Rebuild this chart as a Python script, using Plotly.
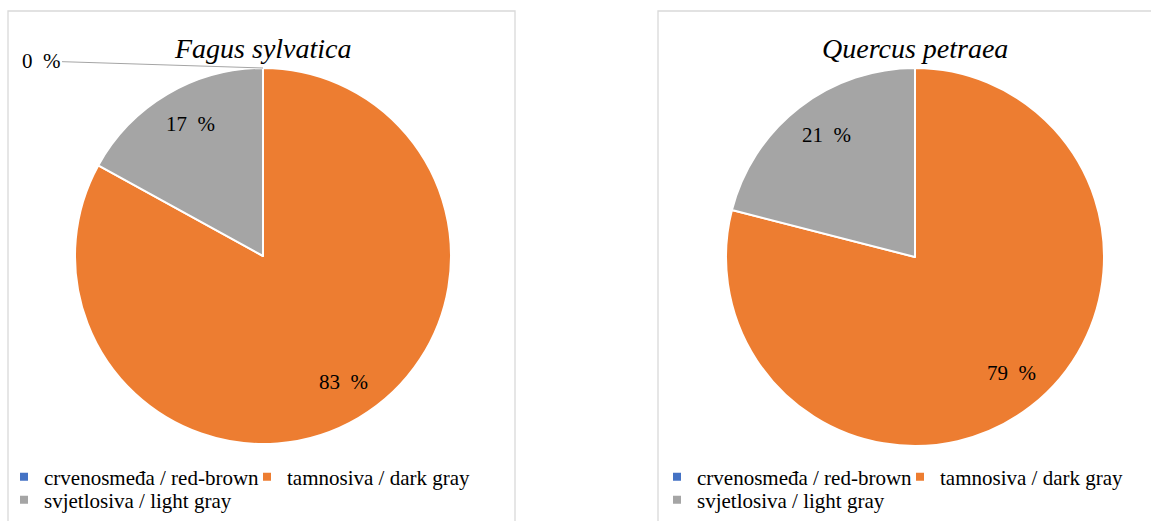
import math
import plotly.graph_objects as go

W, H = 1151, 521

# ---- data ----
categories = ["crvenosmeđa / red-brown", "tamnosiva / dark gray", "svjetlosiva / light gray"]
fagus_values = [0, 83, 17]
quercus_values = [None, 79, 21]
titles = ["Fagus sylvatica", "Quercus petraea"]
colors = ["#4472C4", "#ED7D31", "#A5A5A5"]

SERIF = "Liberation Serif"

# ---- layout geometry (pixels) ----
panels = [
    dict(cx=263, cy=256, r=188, values=fagus_values, title=titles[0],
         box=(8, 515), leg_x=4, legs=("legend", "legend2")),
    dict(cx=915, cy=257, r=189, values=quercus_values, title=titles[1],
         box=(658, 1160), leg_x=657, legs=("legend3", "legend4")),
]
LABEL_RADIUS = 0.8


def px_x(x):
    return x / W


def px_y(y):
    return 1 - y / H


fig = go.Figure()
annotations = []
shapes = []
legend_layout = {}

for p in panels:
    cx, cy, r = p["cx"], p["cy"], p["r"]
    vals = p["values"]
    fig.add_trace(go.Pie(
        labels=categories,
        values=vals,
        sort=False,
        direction="clockwise",
        rotation=0,
        marker=dict(colors=colors, line=dict(color="white", width=2)),
        textinfo="none",
        showlegend=False,
        hoverinfo="label+percent",
        domain=dict(x=[px_x(cx - r), px_x(cx + r)], y=[px_y(cy + r), px_y(cy - r)]),
    ))

    # data labels at slice mid-angles (clockwise from 12 o'clock)
    total = sum(v for v in vals if v is not None)
    cum = 0.0
    for v in vals:
        if v is None:
            continue
        label = "%d\u00a0\u00a0%%" % round(100 * v / total)
        if v == 0:
            # zero slice: outside label with leader line to the slice start
            ang = 2 * math.pi * cum / total
            annotations.append(dict(
                x=px_x(cx + r * math.sin(ang)), y=px_y(cy - r * math.cos(ang)),
                xref="paper", yref="paper",
                text=label, showarrow=True, arrowhead=0,
                arrowwidth=1, arrowcolor="#A5A5A5", ax=-222, ay=-7, standoff=0,
                font=dict(family=SERIF, size=21, color="black"),
            ))
        else:
            ang = 2 * math.pi * (cum + v / 2) / total
            d = LABEL_RADIUS * r
            annotations.append(dict(
                x=px_x(cx + d * math.sin(ang) + 4), y=px_y(cy - d * math.cos(ang) - 3),
                xref="paper", yref="paper", showarrow=False,
                text=label, xanchor="center", yanchor="middle",
                font=dict(family=SERIF, size=21, color="black"),
            ))
        cum += v

    # title
    annotations.append(dict(
        x=px_x(cx), y=px_y(49), xref="paper", yref="paper", showarrow=False,
        text="<i>%s</i>" % p["title"], xanchor="center", yanchor="middle",
        font=dict(family=SERIF, size=28, color="black"),
    ))

    # panel border
    shapes.append(dict(
        type="rect", xref="paper", yref="paper",
        x0=px_x(p["box"][0]), x1=px_x(p["box"][1]), y0=-0.2, y1=px_y(11),
        line=dict(color="#D9D9D9", width=1.3), fillcolor="rgba(0,0,0,0)",
    ))

    # legend entries: row 1 (first two), row 2 (third)
    for i, cat in enumerate(categories):
        leg = p["legs"][0] if i < 2 else p["legs"][1]
        fig.add_trace(go.Scatter(
            x=[None], y=[None], mode="markers", name=cat,
            marker=dict(symbol="square", size=8, color=colors[i]),
            legend=leg, showlegend=True, hoverinfo="skip",
        ))
    for j, (leg, ycen) in enumerate(zip(p["legs"], (477, 500))):
        legend_layout[leg] = dict(
            orientation="h", x=px_x(p["leg_x"]), xanchor="left",
            y=px_y(ycen), yanchor="middle",
            bgcolor="rgba(0,0,0,0)", borderwidth=0,
            font=dict(family=SERIF, size=21, color="black"),
            entrywidth=198 if j == 0 else None,
            itemclick=False, itemdoubleclick=False,
        )

fig.update_layout(
    width=W, height=H,
    margin=dict(l=0, r=0, t=0, b=0),
    paper_bgcolor="white", plot_bgcolor="white",
    xaxis=dict(visible=False), yaxis=dict(visible=False),
    annotations=annotations, shapes=shapes,
    **legend_layout,
)

fig.write_html("out.html")
